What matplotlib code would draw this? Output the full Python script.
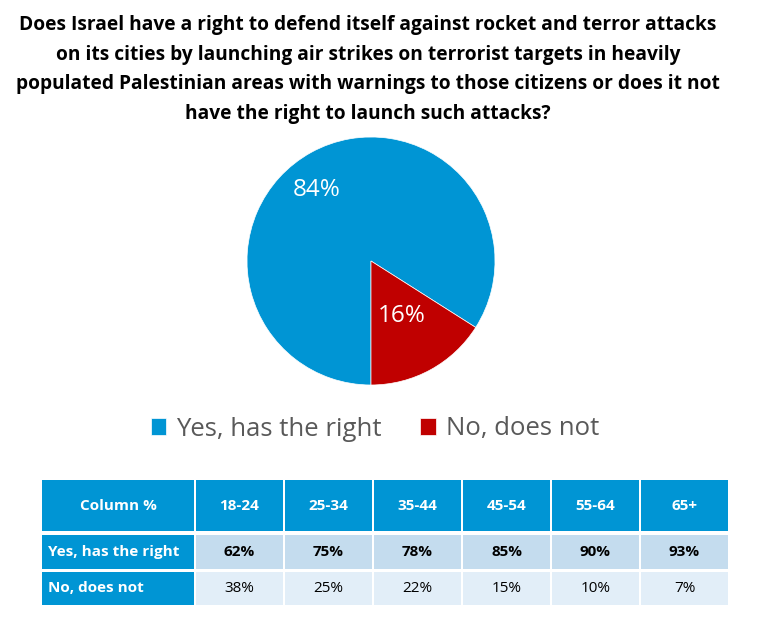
import matplotlib.pyplot as plt
from matplotlib.patches import Rectangle

# Data
title = ("Does Israel have a right to defend itself against rocket and terror attacks\n"
         "on its cities by launching air strikes on terrorist targets in heavily\n"
         "populated Palestinian areas with warnings to those citizens or does it not\n"
         "have the right to launch such attacks?")
labels = ["Yes, has the right", "No, does not"]
shares = [84, 16]
colors = ["#0095D4", "#C00000"]

age_groups = ["18-24", "25-34", "35-44", "45-54", "55-64", "65+"]
yes_by_age = [62, 75, 78, 85, 90, 93]
no_by_age = [38, 25, 22, 15, 10, 7]

plt.rcParams['font.family'] = ['Open Sans', 'DejaVu Sans']

W, H = 762, 631
fig = plt.figure(figsize=(W / 100, H / 100), dpi=100)

# title
fig.text(368 / W, 1 - 15 / H, title, ha='center', va='top', fontsize=13.8,
         fontweight='bold', linespacing=1.64, color='black')

# pie
r = 124
cx, cy = 371, 261
ax = fig.add_axes([(cx - r) / W, 1 - (cy + r) / H, 2 * r / W, 2 * r / H])
wedges, _ = ax.pie(shares, colors=colors, startangle=270, counterclock=False,
                   wedgeprops=dict(linewidth=0.5, edgecolor='white'))
ax.set_xlim(-1, 1)
ax.set_ylim(-1, 1)
ax.text(-0.44, 0.57, f"{shares[0]}%", color='white', fontsize=17.5,
        ha='center', va='center')
ax.text(0.25, -0.44, f"{shares[1]}%", color='white', fontsize=17.5,
        ha='center', va='center')

# legend
leg = fig.legend(wedges, labels, loc='center', bbox_to_anchor=(375 / W, 1 - 429 / H),
                 ncol=2, frameon=False, fontsize=18.5, handlelength=0.6,
                 handleheight=0.6, handletextpad=0.4, columnspacing=1.5,
                 labelcolor='#595959')

# table
tax = fig.add_axes([0, 0, 1, 1])
tax.set_xlim(0, W)
tax.set_ylim(H, 0)
tax.axis('off')

blue = "#0095D4"
x0 = 41
first_w = 154
col_w = 89
rows = [(479, 53), (534, 36), (571, 35)]
gap = 2


def cell(x, y, w, h, fc, text, color, bold, left=False):
    tax.add_patch(Rectangle((x + gap / 2, y + gap / 2), w - gap, h - gap, fc=fc, ec='none'))
    tx = x + 7 if left else x + w / 2
    tax.text(tx, y + h / 2, text, ha='left' if left else 'center', va='center',
             color=color, fontsize=11, fontweight='bold' if bold else 'normal')


ys, hs = rows[0]
cell(x0, ys, first_w, hs, blue, "Column %", 'white', True)
for i, g in enumerate(age_groups):
    cell(x0 + first_w + i * col_w, ys, col_w, hs, blue, g, 'white', True)

ys, hs = rows[1]
cell(x0, ys, first_w, hs, blue, labels[0], 'white', True, left=True)
for i, v in enumerate(yes_by_age):
    cell(x0 + first_w + i * col_w, ys, col_w, hs, "#C4DCEE", f"{v}%", 'black', True)

ys, hs = rows[2]
cell(x0, ys, first_w, hs, blue, labels[1], 'white', True, left=True)
for i, v in enumerate(no_by_age):
    cell(x0 + first_w + i * col_w, ys, col_w, hs, "#E2EEF8", f"{v}%", 'black', False)

fig.savefig('out.png', dpi=100)
